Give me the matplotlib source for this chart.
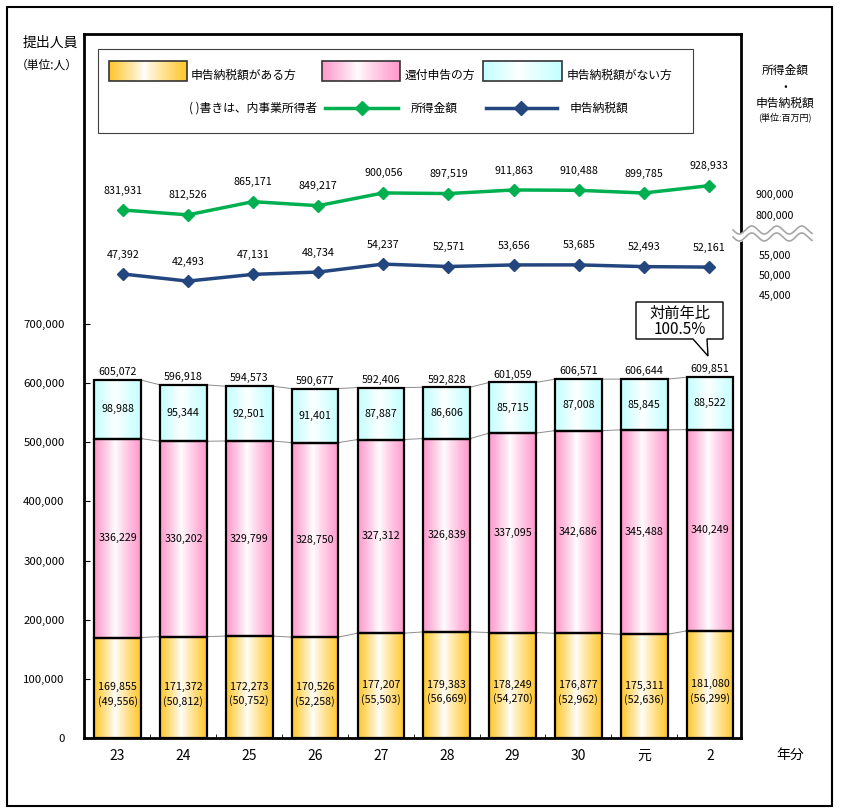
import numpy as np
import matplotlib
matplotlib.use('Agg')
import matplotlib.pyplot as plt
from matplotlib.patches import Rectangle, Polygon
from matplotlib.colors import to_rgb

plt.rcParams['font.family'] = ['Noto Sans CJK JP', 'DejaVu Sans']

# データ
categories = ['23', '24', '25', '26', '27', '28', '29', '30', '元', '2']
nozei_ari = [169855, 171372, 172273, 170526, 177207, 179383, 178249, 176877, 175311, 181080]
jigyo = [49556, 50812, 50752, 52258, 55503, 56669, 54270, 52962, 52636, 56299]
kanpu = [336229, 330202, 329799, 328750, 327312, 326839, 337095, 342686, 345488, 340249]
nozei_nashi = [98988, 95344, 92501, 91401, 87887, 86606, 85715, 87008, 85845, 88522]
totals = [605072, 596918, 594573, 590677, 592406, 592828, 601059, 606571, 606644, 609851]
shotoku = [831931, 812526, 865171, 849217, 900056, 897519, 911863, 910488, 899785, 928933]
nozeigaku = [47392, 42493, 47131, 48734, 54237, 52571, 53656, 53685, 52493, 52161]
right_ticks = ['900,000', '800,000', '55,000', '50,000', '45,000']

GOLD = '#FFC72C'
PINK = '#FF99CC'
CYAN = '#C4FFFF'
GREEN = '#00B050'
NAVY = '#23467F'

W, H = 844, 810
fig = plt.figure(figsize=(W / 100, H / 100), dpi=100)


def fbox(x0, y0, x1, y1):
    return [x0 / W, 1 - y1 / H, (x1 - x0) / W, (y1 - y0) / H]


def grad(color, n=90):
    # 左右が色、中央やや左が白のグラデーション
    c = np.array(to_rgb(color))
    t = np.linspace(0, 1, n)
    w = np.where(t < 0.45, (0.45 - t) / 0.45, (t - 0.45) / 0.55) ** 0.85
    row = 1 - w[:, None] * (1 - c[None, :])
    return row[None, :, :]


ax = fig.add_axes(fbox(84, 34, 741, 738))
x = np.arange(len(categories))
bw = 0.71

a = np.array(nozei_ari)
b = np.array(kanpu)
c = np.array(nozei_nashi)
stacks = [(a, np.zeros_like(a), GOLD), (b, a, PINK), (c, a + b, CYAN)]
for vals, bot, col in stacks:
    for xi, v, b0 in zip(x, vals, bot):
        ax.imshow(grad(col), extent=[xi - bw / 2, xi + bw / 2, b0, b0 + v],
                  aspect='auto', interpolation='bilinear', zorder=1)
    ax.bar(x, vals, bw, bottom=bot, fill=False, edgecolor='black', linewidth=1.6, zorder=2)

# 系列線
for level in [a, a + b, a + b + c]:
    for i in range(len(x) - 1):
        ax.plot([x[i] + bw / 2, x[i + 1] - bw / 2], [level[i], level[i + 1]],
                color='#8c8c8c', lw=0.7, zorder=1.5)

fs = 7.7
for i in range(len(x)):
    ax.annotate(f'{totals[i]:,}', (x[i], a[i] + b[i] + c[i]), xytext=(0, 2),
                textcoords='offset points', ha='center', va='bottom', fontsize=fs)
    ax.text(x[i], a[i] + b[i] + c[i] / 2, f'{c[i]:,}', ha='center', va='center', fontsize=fs)
    ax.text(x[i], a[i] + b[i] / 2, f'{b[i]:,}', ha='center', va='center', fontsize=fs)
    ax.annotate(f'{a[i]:,}\n({jigyo[i]:,})', (x[i], a[i] / 2), xytext=(0, -5),
                textcoords='offset points', ha='center', va='center', fontsize=fs,
                linespacing=1.4)

ax.set_ylim(0, 1190000)
ax.set_xlim(-0.51, 9.47)
ax.set_yticks(range(0, 700001, 100000))
ax.set_yticklabels([f'{v:,}' for v in range(0, 700001, 100000)], fontsize=8.2)
ax.tick_params(axis='y', direction='in', length=4, pad=14)
ax.set_xticks(x)
ax.set_xticklabels(categories, fontsize=10)
ax.tick_params(axis='x', length=0, pad=8)
ax.set_xticks(x[:-1] + 0.5, minor=True)
ax.tick_params(axis='x', which='minor', direction='in', length=3)
for s in ax.spines.values():
    s.set_linewidth(2)

# 折れ線(所得金額・申告納税額)
ax_g = fig.add_axes(fbox(84, 34, 741, 738))
ax_g.patch.set_visible(False)
ax_g.axis('off')
ax_g.plot(x, shotoku, color=GREEN, lw=2.5, marker='D', ms=6.5)
ax_g.set_xlim(-0.594, 9.49)
ax_g.set_ylim(-1274789, 1534171)
for xi, v in zip(x, shotoku):
    ax_g.annotate(f'{v:,}', (xi, v), xytext=(0, 14), textcoords='offset points',
                  ha='center', va='center', fontsize=fs)

ax_b = fig.add_axes(fbox(84, 34, 741, 738))
ax_b.patch.set_visible(False)
ax_b.axis('off')
ax_b.plot(x, nozeigaku, color=NAVY, lw=2.5, marker='D', ms=6.5)
ax_b.set_xlim(-0.594, 9.49)
ax_b.set_ylim(-273232, 213232)
for xi, v in zip(x, nozeigaku):
    ax_b.annotate(f'{v:,}', (xi, v), xytext=(0, 14), textcoords='offset points',
                  ha='center', va='center', fontsize=fs)

# 装飾レイヤー(ピクセル座標)
ov = fig.add_axes([0, 0, 1, 1])
ov.axis('off')

ov.add_patch(Rectangle((7, 7), 825, 799, fill=False, ec='black', lw=1.5))
ov.add_patch(Rectangle((98, 49), 595, 84, fill=False, ec='#404040', lw=0.8))

for (x0, x1), col, lab, lx in [((109, 187), GOLD, '申告納税額がある方', 191),
                                ((322, 400), PINK, '還付申告の方', 405),
                                ((483, 562), CYAN, '申告納税額がない方', 567)]:
    ov.imshow(grad(col), extent=[x0, x1, 81, 61], aspect='auto', interpolation='bilinear')
    ov.add_patch(Rectangle((x0, 61), x1 - x0, 20, fill=False, ec='#333333', lw=1.2))
    ov.text(lx, 75, lab, ha='left', va='center', fontsize=8.5)

ov.text(317, 108, '( )書きは、内事業所得者', ha='right', va='center', fontsize=8.5)
ov.plot([325, 398], [108, 108], color=GREEN, lw=2.5)
ov.plot([362], [108], color=GREEN, marker='D', ms=7)
ov.text(411, 108, '所得金額', ha='left', va='center', fontsize=8.5)
ov.plot([486, 557], [108, 108], color=NAVY, lw=2.5)
ov.plot([521], [108], color=NAVY, marker='D', ms=7)
ov.text(570, 108, '申告納税額', ha='left', va='center', fontsize=8.5)

ov.text(50, 43, '提出人員', ha='center', va='center', fontsize=10)
ov.text(47, 65, '（単位:人）', ha='center', va='center', fontsize=8.5)

ov.text(785, 70, '所得金額', ha='center', va='center', fontsize=8.5)
ov.text(785, 87, '・', ha='center', va='center', fontsize=8.5)
ov.text(785, 103, '申告納税額', ha='center', va='center', fontsize=8.5)
ov.text(785, 117, '(単位:百万円)', ha='center', va='center', fontsize=6.5)

for lab, yy in zip(right_ticks, [195, 216, 256, 276, 296]):
    ov.text(775, yy, lab, ha='center', va='center', fontsize=7.7)

# 省略線
wx = np.linspace(733, 812, 200)
w1 = 230 + 4 * np.sin((wx - 733) / 25 * 2 * np.pi)
w2 = w1 + 7
ov.fill_between(wx, w1, w2, color='white', zorder=5)
ov.plot(wx, w1, color='#a6a6a6', lw=1.2, zorder=6)
ov.plot(wx, w2, color='#a6a6a6', lw=1.2, zorder=6)

# 対前年比吹き出し
ov.add_patch(Polygon([(636, 302), (723, 302), (723, 339), (707, 339), (708, 356),
                      (693, 339), (636, 339)], closed=True, fc='white', ec='black', lw=1))
ov.text(680, 313, '対前年比', ha='center', va='center', fontsize=11)
ov.text(680, 329, '100.5%', ha='center', va='center', fontsize=11)

ov.text(790, 755, '年分', ha='center', va='center', fontsize=10)

ov.set_xlim(0, W)
ov.set_ylim(H, 0)

fig.savefig('out.png', dpi=100)
